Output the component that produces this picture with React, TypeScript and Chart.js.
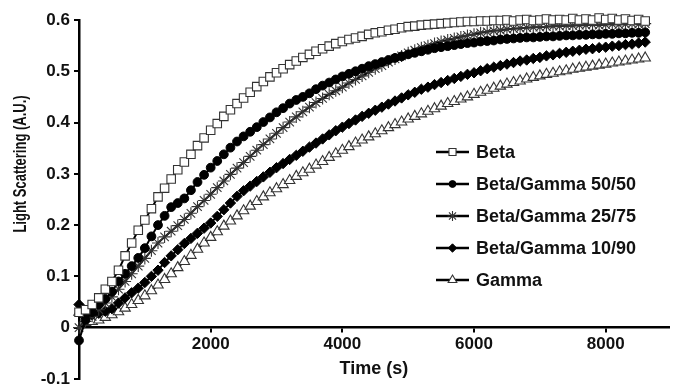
import React, { useEffect, useRef } from 'react';
import { Chart, registerables } from 'chart.js';
import { drawPoint } from 'chart.js/helpers';

Chart.register(...registerables);

const TIME_S = [
  0, 100, 200, 300, 400, 500, 600, 700, 800, 900,
  1000, 1100, 1200, 1300, 1400, 1500, 1600, 1700, 1800, 1900,
  2000, 2100, 2200, 2300, 2400, 2500, 2600, 2700, 2800, 2900,
  3000, 3100, 3200, 3300, 3400, 3500, 3600, 3700, 3800, 3900,
  4000, 4100, 4200, 4300, 4400, 4500, 4600, 4700, 4800, 4900,
  5000, 5100, 5200, 5300, 5400, 5500, 5600, 5700, 5800, 5900,
  6000, 6100, 6200, 6300, 6400, 6500, 6600, 6700, 6800, 6900,
  7000, 7100, 7200, 7300, 7400, 7500, 7600, 7700, 7800, 7900,
  8000, 8100, 8200, 8300, 8400, 8500, 8600,
];

const BETA = [
  0.03, 0.035, 0.045, 0.058, 0.075, 0.09, 0.112, 0.14, 0.165, 0.19,
  0.21, 0.232, 0.255, 0.272, 0.29, 0.308, 0.323, 0.338, 0.355, 0.37,
  0.385, 0.398, 0.412, 0.425, 0.437, 0.448, 0.459, 0.47, 0.48, 0.489,
  0.497, 0.505, 0.513, 0.52, 0.527, 0.533, 0.539, 0.544, 0.549, 0.554,
  0.558, 0.562, 0.565, 0.568, 0.572, 0.575, 0.577, 0.58, 0.582, 0.585,
  0.587, 0.588, 0.59, 0.591, 0.592, 0.593, 0.594, 0.595, 0.596, 0.597,
  0.597, 0.598, 0.598, 0.599, 0.599, 0.6, 0.598, 0.6, 0.601, 0.599,
  0.6, 0.602, 0.6, 0.601, 0.6, 0.603, 0.6, 0.602, 0.6, 0.604,
  0.601, 0.603, 0.6, 0.602, 0.599, 0.601, 0.598,
];

const BG_50_50 = [
  -0.025, 0.015, 0.03, 0.045, 0.056, 0.07, 0.09, 0.105, 0.12, 0.136,
  0.155, 0.178, 0.2, 0.218, 0.235, 0.243, 0.252, 0.268, 0.284, 0.298,
  0.312, 0.325, 0.338, 0.351, 0.363, 0.373, 0.382, 0.391, 0.401, 0.41,
  0.42, 0.428, 0.437, 0.444, 0.45, 0.457, 0.465, 0.472, 0.478, 0.484,
  0.49, 0.495, 0.5, 0.505, 0.51, 0.514, 0.518, 0.522, 0.526, 0.529,
  0.533, 0.536, 0.539, 0.542, 0.545, 0.547, 0.549, 0.551, 0.553, 0.555,
  0.556, 0.558, 0.559, 0.56, 0.562, 0.563, 0.564, 0.565, 0.566, 0.566,
  0.567, 0.568, 0.568, 0.569, 0.57, 0.57, 0.571, 0.571, 0.572, 0.572,
  0.573, 0.573, 0.574, 0.574, 0.575, 0.575, 0.576,
];

const BG_25_75 = [
  0.0, 0.012, 0.022, 0.035, 0.048, 0.06, 0.075, 0.09, 0.105, 0.12,
  0.135, 0.15, 0.165, 0.177, 0.188, 0.199, 0.211, 0.223, 0.236, 0.248,
  0.26, 0.273, 0.286, 0.299, 0.311, 0.322, 0.334, 0.346, 0.357, 0.368,
  0.379, 0.39, 0.401, 0.411, 0.421, 0.43, 0.439, 0.447, 0.455, 0.462,
  0.469, 0.477, 0.484, 0.491, 0.498, 0.505, 0.511, 0.518, 0.524, 0.53,
  0.536, 0.541, 0.546, 0.55, 0.554, 0.558, 0.561, 0.564, 0.567, 0.57,
  0.572, 0.575, 0.577, 0.579, 0.58, 0.582, 0.583, 0.584, 0.585, 0.586,
  0.586, 0.587, 0.588, 0.588, 0.589, 0.589, 0.59, 0.59, 0.591, 0.59,
  0.591, 0.592, 0.591, 0.592, 0.593, 0.592, 0.593,
];

const BG_10_90 = [
  0.045, 0.02, 0.025, 0.028, 0.032, 0.037, 0.048, 0.058, 0.068, 0.077,
  0.088, 0.1, 0.112, 0.127, 0.14, 0.152, 0.164, 0.174, 0.184, 0.194,
  0.204, 0.217, 0.23, 0.243, 0.256, 0.267, 0.276, 0.285, 0.294, 0.303,
  0.312, 0.32, 0.328, 0.336, 0.344, 0.352, 0.36, 0.368, 0.376, 0.384,
  0.391, 0.398, 0.405, 0.412, 0.418, 0.424, 0.43, 0.436, 0.442, 0.448,
  0.454, 0.459, 0.465, 0.469, 0.474, 0.478, 0.482, 0.486, 0.49, 0.494,
  0.497, 0.501, 0.505, 0.508, 0.511, 0.514, 0.517, 0.52, 0.522, 0.525,
  0.527, 0.53, 0.532, 0.535, 0.537, 0.539, 0.541, 0.543, 0.544, 0.546,
  0.547, 0.549, 0.55, 0.552, 0.553, 0.555, 0.557,
];

const GAMMA = [
  0.03, 0.01, 0.012, 0.015, 0.02, 0.025, 0.031, 0.038, 0.045, 0.053,
  0.062, 0.072, 0.083, 0.094, 0.105, 0.117, 0.129, 0.141, 0.153, 0.165,
  0.176, 0.187, 0.198, 0.208, 0.218, 0.228, 0.237, 0.246, 0.255, 0.263,
  0.271, 0.279, 0.287, 0.295, 0.302, 0.309, 0.317, 0.324, 0.332, 0.339,
  0.346, 0.353, 0.36, 0.366, 0.372, 0.378, 0.384, 0.39, 0.396, 0.401,
  0.407, 0.412, 0.417, 0.422, 0.427, 0.432, 0.437, 0.441, 0.446, 0.45,
  0.455, 0.459, 0.463, 0.467, 0.471, 0.475, 0.478, 0.481, 0.485, 0.488,
  0.491, 0.494, 0.496, 0.499, 0.501, 0.504, 0.506, 0.508, 0.51, 0.512,
  0.514, 0.516, 0.518, 0.52, 0.522, 0.524, 0.526,
];

const SERIES_LABELS = ['Beta', 'Beta/Gamma 50/50', 'Beta/Gamma 25/75', 'Beta/Gamma 10/90', 'Gamma'];
const X_TICKS = [2000, 4000, 6000, 8000];
const Y_TITLE = 'Light Scattering (A.U.)';
const X_TITLE = 'Time (s)';

const FONT = '"Liberation Sans", Arial, Helvetica, sans-serif';

const toPoints = (vals: number[]) => vals.map((v, i) => ({ x: TIME_S[i], y: v }));

const legendAndTitle = {
  id: 'legendAndTitle',
  afterDraw(chart: any) {
    const ctx = chart.ctx;
    ctx.save();
    // y-axis title
    ctx.translate(21, 164);
    ctx.rotate(-Math.PI / 2);
    ctx.scale(1, 1.35);
    ctx.font = `bold 13px ${FONT}`;
    ctx.fillStyle = '#111';
    ctx.textAlign = 'center';
    ctx.textBaseline = 'middle';
    ctx.fillText(Y_TITLE, 0, 0);
    ctx.restore();

    // legend
    const rowsY = [152, 184, 216, 248, 280];
    chart.data.datasets.forEach((ds: any, i: number) => {
      const y = rowsY[i];
      ctx.save();
      ctx.strokeStyle = '#000';
      ctx.lineWidth = 2.5;
      ctx.beginPath();
      ctx.moveTo(436, y);
      ctx.lineTo(469, y);
      ctx.stroke();
      ctx.fillStyle = ds.pointBackgroundColor;
      ctx.strokeStyle = ds.pointBorderColor;
      ctx.lineWidth = ds.pointBorderWidth;
      drawPoint(ctx, {
        pointStyle: ds.pointStyle,
        rotation: 0,
        radius: ds.pointRadius - 1,
        borderWidth: ds.pointBorderWidth,
      }, 452.5, y);
      ctx.font = `bold 18px ${FONT}`;
      ctx.fillStyle = '#111';
      ctx.textAlign = 'left';
      ctx.textBaseline = 'middle';
      ctx.fillText(ds.label, 476, y + 1);
      ctx.restore();
    });
  },
};

export default function App() {
  const ref = useRef<HTMLCanvasElement | null>(null);

  useEffect(() => {
    document.body.style.margin = '0';
    const canvas = ref.current;
    if (!canvas) return;

    const common = {
      showLine: true,
      borderColor: '#000',
      borderWidth: 2,
      clip: false,
      pointHoverRadius: 0,
    };

    const chart = new Chart(canvas, {
      type: 'line',
      data: {
        datasets: [
          {
            ...common,
            label: SERIES_LABELS[0],
            data: toPoints(BETA),
            pointStyle: 'rect',
            pointRadius: 6,
            pointBackgroundColor: '#fff',
            pointBorderColor: '#333',
            pointBorderWidth: 1.1,
          },
          {
            ...common,
            label: SERIES_LABELS[1],
            data: toPoints(BG_50_50),
            pointStyle: 'circle',
            pointRadius: 4.4,
            pointBackgroundColor: '#000',
            pointBorderColor: '#000',
            pointBorderWidth: 1,
          },
          {
            ...common,
            label: SERIES_LABELS[2],
            data: toPoints(BG_25_75),
            pointStyle: 'star',
            pointRadius: 6,
            pointBackgroundColor: '#333',
            pointBorderColor: '#333',
            pointBorderWidth: 1.1,
          },
          {
            ...common,
            label: SERIES_LABELS[3],
            data: toPoints(BG_10_90),
            pointStyle: 'rectRot',
            pointRadius: 5.2,
            pointBackgroundColor: '#000',
            pointBorderColor: '#000',
            pointBorderWidth: 1,
          },
          {
            ...common,
            label: SERIES_LABELS[4],
            data: toPoints(GAMMA),
            pointStyle: 'triangle',
            pointRadius: 6,
            pointBackgroundColor: '#fff',
            pointBorderColor: '#333',
            pointBorderWidth: 1.1,
          },
        ],
      },
      options: {
        responsive: false,
        animation: false,
        devicePixelRatio: 1,
        layout: { padding: { left: 0, right: 0, top: 20, bottom: 7 } },
        plugins: {
          legend: { display: false },
          tooltip: { enabled: false },
        },
        scales: {
          x: {
            type: 'linear',
            position: { y: 0 },
            min: 0,
            max: 8960,
            afterBuildTicks: (scale: any) => {
              scale.ticks = X_TICKS.map((v) => ({ value: v }));
            },
            afterFit: (scale: any) => {
              scale.paddingLeft = 0;
              scale.paddingRight = 0;
            },
            ticks: {
              stepSize: 2000,
              includeBounds: false,
              maxRotation: 0,
              autoSkip: false,
              padding: 2,
              color: '#111',
              font: { family: FONT, size: 17, weight: 'bold' },
              callback: (v: any) => String(v),
            },
            grid: {
              drawOnChartArea: false,
              drawTicks: true,
              tickLength: 4,
              color: '#000',
              lineWidth: 2,
            },
            border: { display: true, color: '#000', width: 2.5 },
            title: {
              display: true,
              text: X_TITLE,
              color: '#111',
              font: { family: FONT, size: 18, weight: 'bold' },
              padding: { top: 2, bottom: 4 },
            },
          },
          y: {
            type: 'linear',
            min: -0.1,
            max: 0.6,
            afterFit: (scale: any) => {
              scale.width = 79;
              scale.paddingTop = 0;
              scale.paddingBottom = 0;
            },
            ticks: {
              stepSize: 0.1,
              padding: 4,
              color: '#111',
              font: { family: FONT, size: 17, weight: 'bold' },
              callback: (v: any) => {
                const n = Math.round(Number(v) * 10) / 10;
                return n === 0 ? '0' : n.toFixed(1);
              },
            },
            grid: {
              drawOnChartArea: false,
              drawTicks: true,
              tickLength: 5,
              color: '#000',
              lineWidth: 2,
            },
            border: { display: true, color: '#000', width: 2.5 },
          },
        },
      },
      plugins: [legendAndTitle],
    } as any);

    return () => chart.destroy();
  }, []);

  return (
    <div style={{ width: 676, height: 386 }}>
      <canvas ref={ref} width={676} height={386} style={{ display: 'block' }} />
    </div>
  );
}
